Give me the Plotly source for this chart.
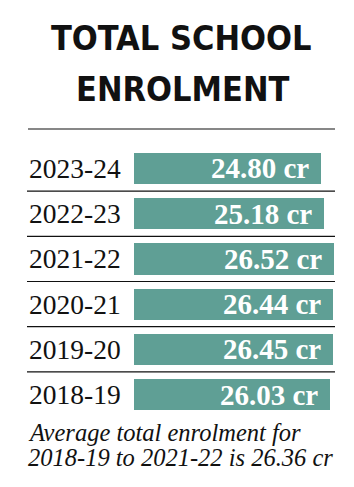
import plotly.graph_objects as go

years = ["2023-24", "2022-23", "2021-22", "2020-21", "2019-20", "2018-19"]
enrolment = [24.80, 25.18, 26.52, 26.44, 26.45, 26.03]
value_labels = ["24.80 cr", "25.18 cr", "26.52 cr", "26.44 cr", "26.45 cr", "26.03 cr"]
title_lines = ["TOTAL SCHOOL", "ENROLMENT"]
note_lines = ["Average total enrolment for", "2018-19 to 2021-22 is 26.36 cr"]

W, H = 354, 487
BAR = "#5f9f95"
rows = list(range(len(years)))

fig = go.Figure()
fig.add_trace(go.Bar(
    x=enrolment, y=rows, orientation="h",
    marker=dict(color=BAR, line=dict(width=0)),
    width=0.69, hoverinfo="skip",
))

pitch = 45.2
top_px = 168.5 - pitch / 2
bot_px = top_px + pitch * len(years)

px_per_unit = 200 / 26.52
xmax = (W - 134) / px_per_unit

fig.update_layout(
    width=W, height=H, margin=dict(l=0, r=0, t=0, b=0),
    paper_bgcolor="white", plot_bgcolor="white", showlegend=False,
    xaxis=dict(domain=[134 / W, 1], range=[0, xmax], visible=False, fixedrange=True),
    yaxis=dict(domain=[1 - bot_px / H, 1 - top_px / H], range=[len(years) - 0.5, -0.5],
               visible=False, fixedrange=True),
    bargap=0,
)

TITLE_FONT = "Noto Sans ExtraCondensed, Noto Sans Condensed, DejaVu Sans Condensed, Liberation Sans Narrow, Roboto"

ann = []
for i, (yr, v, lab) in enumerate(zip(years, enrolment, value_labels)):
    ann.append(dict(x=27 / W, xref="paper", y=i, yref="y", text=yr, showarrow=False,
                    xanchor="left", yanchor="middle",
                    font=dict(family="Liberation Serif", size=27.5, color="#111")))
    ann.append(dict(x=v, xref="x", y=i, yref="y", text="<b>%s</b>" % lab, showarrow=False,
                    xanchor="right", yanchor="middle", xshift=-10,
                    font=dict(family="Liberation Serif", size=29, color="white")))

ann.append(dict(x=181 / W, xref="paper", y=1 - 38 / H, yref="paper", text="<b>%s</b>" % title_lines[0],
                showarrow=False, xanchor="center", yanchor="middle",
                font=dict(family=TITLE_FONT, size=34, color="#111")))
ann.append(dict(x=182 / W, xref="paper", y=1 - 89 / H, yref="paper", text="<b>%s</b>" % title_lines[1],
                showarrow=False, xanchor="center", yanchor="middle",
                font=dict(family=TITLE_FONT, size=34, color="#111")))
ann.append(dict(x=26 / W, xref="paper", y=1 - 432 / H, yref="paper", text="<i>%s</i>" % note_lines[0],
                showarrow=False, xanchor="left", yanchor="middle",
                font=dict(family="Liberation Serif", size=24.5, color="#111")))
ann.append(dict(x=26 / W, xref="paper", y=1 - 457 / H, yref="paper", text="<i>%s</i>" % note_lines[1],
                showarrow=False, xanchor="left", yanchor="middle",
                font=dict(family="Liberation Serif", size=24.5, color="#111")))
fig.update_layout(annotations=ann)

shapes = [dict(type="line", xref="paper", yref="paper", x0=28 / W, x1=335 / W,
               y0=1 - 129 / H, y1=1 - 129 / H, line=dict(color="#111", width=1.2))]
for i in range(len(years) - 1):
    shapes.append(dict(type="line", xref="paper", yref="y", x0=27 / W, x1=335 / W,
                       y0=i + 0.5, y1=i + 0.5, line=dict(color="#111", width=1.2)))
fig.update_layout(shapes=shapes)

fig.write_html("out.html", config=dict(displayModeBar=False))
